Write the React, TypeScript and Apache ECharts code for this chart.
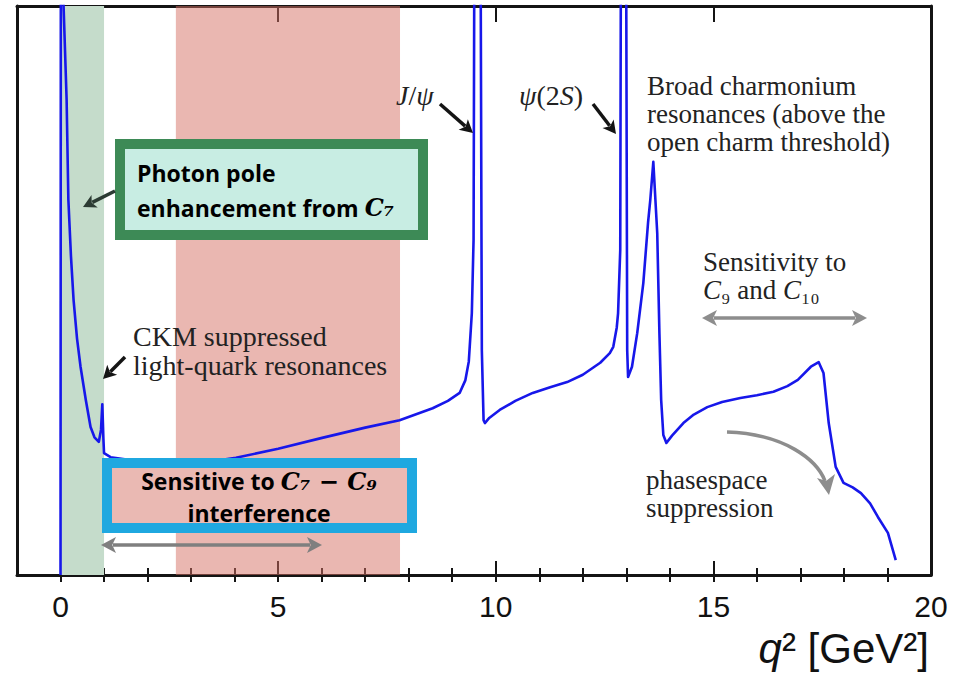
import React, { useEffect, useRef } from "react";
import * as echarts from "echarts";

// ---- data ----
const Q2 = [
  0.0, 0.02, 0.07, 0.14, 0.18, 0.24, 0.3, 0.38, 0.46, 0.58, 0.69, 0.78, 0.88, 0.93, 0.96, 0.985, 1.0, 1.15,
  1.6, 2.2, 2.8, 3.4, 4.03, 5.0, 6.01, 7.0, 7.79, 8.55, 8.9, 9.17, 9.3, 9.38, 9.45, 9.49, 9.575, 9.68, 9.72,
  9.75, 9.85, 10.09, 10.45, 10.85, 11.25, 11.64, 12.0, 12.4, 12.62, 12.7, 12.78, 12.81, 12.86, 12.93, 13.02,
  13.04, 13.13, 13.25, 13.39, 13.5, 13.55, 13.62, 13.71, 13.76, 13.8, 13.85, 13.92, 14.05, 14.31, 14.55,
  14.86, 15.2, 15.62, 16.0, 16.38, 16.7, 16.94, 17.24, 17.42, 17.53, 17.65, 17.81, 17.99, 18.2, 18.39, 18.6,
  18.78, 19.01, 19.19,
];
const RATE = [
  0, 300, 100, 83.5, 66, 56, 48.3, 41.5, 36.6, 30.8, 26.0, 24.2, 23.4, 25.5, 30.0, 24, 21.4, 20.7,
  20.2, 19.9, 19.7, 19.9, 20.6, 22.2, 24.1, 25.9, 27.2, 29.3, 30.6, 32.0, 34.2, 37.5, 46.0, 58.9, 300, 39.5, 27.2,
  26.7, 27.6, 29.0, 30.6, 32.0, 33.0, 33.9, 35.2, 37.3, 39.0, 40.1, 43.5, 46.0, 57.1, 300, 39.5,
  34.8, 36.6, 42.5, 51.3, 62, 65.9, 72.6, 60.1, 42.5, 30.8, 24.6, 23.2, 24.5, 26.7, 28.2,
  29.5, 30.4, 31.1, 31.6, 32.2, 33.2, 34.3, 36.6, 37.4, 35.5, 26.7, 19.0, 16.2, 15.4, 14.4, 12.6,
  10.2, 7.4, 2.6,
];
const X_MIN = -1;
const X_MAX = 20;
const MAJOR_TICKS = [0, 5, 10, 15, 20];
const MINOR_TICKS = [0, 1, 2, 3, 4, 5, 6, 7, 8, 9, 10, 11, 12, 13, 14, 15, 16, 17, 18, 19];
const PHOTON_BAND = [0, 1];
const INTERF_BAND = [2.65, 7.8];

const SERIF = '"Liberation Serif", "Times New Roman", serif';
const SANS = '"Liberation Sans", Arial, sans-serif';
const BOLD = '"Open Sans", "Noto Sans", sans-serif';

type P = [number, number];

function arrow(a: P, b: P, color: string, width: number, head: number, half: number, z: number, both = false) {
  const dx = b[0] - a[0];
  const dy = b[1] - a[1];
  const L = Math.hypot(dx, dy);
  const ux = dx / L;
  const uy = dy / L;
  const els: any[] = [];
  const sx = both ? a[0] + ux * head * 0.8 : a[0];
  const sy = both ? a[1] + uy * head * 0.8 : a[1];
  els.push({
    type: "line",
    z,
    silent: true,
    shape: { x1: sx, y1: sy, x2: b[0] - ux * head * 0.8, y2: b[1] - uy * head * 0.8 },
    style: { stroke: color, lineWidth: width, lineCap: "butt" },
  });
  const headAt = (t: P, vx: number, vy: number) => ({
    type: "polygon",
    z,
    silent: true,
    shape: {
      points: [
        [t[0], t[1]],
        [t[0] - vx * head - vy * half, t[1] - vy * head + vx * half],
        [t[0] - vx * head * 0.75, t[1] - vy * head * 0.75],
        [t[0] - vx * head + vy * half, t[1] - vy * head - vx * half],
      ],
    },
    style: { fill: color },
  });
  els.push(headAt(b, ux, uy));
  if (both) els.push(headAt(a, -ux, -uy));
  return els;
}

export default function App() {
  const ref = useRef<HTMLDivElement>(null);

  useEffect(() => {
    if (!ref.current) return;
    const chart = echarts.init(ref.current, undefined, { renderer: "svg" });
    const curve = Q2.map((q, i) => [q, RATE[i]]);

    const axisBase = {
      type: "value" as const,
      min: X_MIN,
      max: X_MAX,
      splitLine: { show: false },
      gridIndex: 0,
    };

    const black = "#141414";
    const grey = "#8d8d8d";
    const serifFont = `27px ${SERIF}`;

    const graphics: any[] = [
      // serif annotations
      {
        type: "text",
        z: 3,
        silent: true,
        style: {
          x: 396,
          y: 95,
          text: "{i|J}/{i|ψ}",
          rich: {
            i: { fontStyle: "italic", fontSize: 28, fontFamily: SERIF, fill: "#222" },
          },
          font: `28px ${SERIF}`,
          fill: "#222",
          align: "left",
          verticalAlign: "middle",
        },
      },
      {
        type: "text",
        z: 3,
        silent: true,
        style: {
          x: 519,
          y: 95,
          text: "{i|ψ}(2{i|S})",
          rich: {
            i: { fontStyle: "italic", fontSize: 28, fontFamily: SERIF, fill: "#222" },
          },
          font: `28px ${SERIF}`,
          fill: "#222",
          align: "left",
          verticalAlign: "middle",
        },
      },
      {
        type: "text",
        z: 3,
        silent: true,
        style: {
          x: 647,
          y: 72,
          text: "Broad charmonium\nresonances (above the\nopen charm threshold)",
          font: serifFont,
          lineHeight: 28,
          fill: "#222",
          align: "left",
          verticalAlign: "top",
        },
      },
      {
        type: "text",
        z: 3,
        silent: true,
        style: {
          x: 703,
          y: 248,
          text: "Sensitivity to\n{i|C}₉ and {i|C}₁₀",
          rich: {
            i: { fontStyle: "italic", fontSize: 27, fontFamily: SERIF, fill: "#222", lineHeight: 28 },
          },
          font: serifFont,
          lineHeight: 28,
          fill: "#222",
          align: "left",
          verticalAlign: "top",
        },
      },
      {
        type: "text",
        z: 3,
        silent: true,
        style: {
          x: 646,
          y: 466,
          text: "phasespace\nsuppression",
          font: serifFont,
          lineHeight: 28,
          fill: "#222",
          align: "left",
          verticalAlign: "top",
        },
      },
      {
        type: "text",
        z: 3,
        silent: true,
        style: {
          x: 133,
          y: 322,
          text: "CKM suppressed\nlight-quark resonances",
          font: `28px ${SERIF}`,
          lineHeight: 29,
          fill: "#222",
          align: "left",
          verticalAlign: "top",
        },
      },
      // axis title
      {
        type: "text",
        z: 3,
        silent: true,
        style: {
          x: 929,
          y: 648,
          text: "{i|q}{n|² [GeV²]}",
          rich: {
            i: { fontStyle: "italic", fontSize: 42, fontFamily: SANS, fill: "#111" },
            n: { fontSize: 42, fontFamily: SANS, fill: "#111" },
          },
          font: `42px ${SANS}`,
          fill: "#111",
          align: "right",
          verticalAlign: "middle",
        },
      },
      // black arrows
      ...arrow([440, 104], [473, 133], black, 3.5, 13, 7, 3),
      ...arrow([593, 104], [616, 134], black, 3.5, 13, 7, 3),
      ...arrow([125, 357], [103, 379], black, 3.5, 13, 7, 3),
      // grey double arrows
      ...arrow([702, 318], [867, 318], grey, 3.5, 15, 8, 3, true),
      ...arrow([101, 545], [322, 545], "#7f7f7f", 3.5, 15, 8, 3, true),
      // curved grey arrow
      {
        type: "bezierCurve",
        z: 3,
        silent: true,
        shape: { x1: 727, y1: 432, cpx1: 785, cpy1: 434, cpx2: 817, cpy2: 460, x2: 825, y2: 481 },
        style: { stroke: grey, lineWidth: 3.5, fill: null },
      },
      {
        type: "polygon",
        z: 3,
        silent: true,
        shape: { points: [[829, 495], [817, 478], [826, 481], [835, 474]] },
        style: { fill: grey },
      },
      // green box
      {
        type: "rect",
        z: 10,
        silent: true,
        shape: { x: 120, y: 144, width: 303, height: 91 },
        style: { fill: "#c8ede3", stroke: "#3d8a56", lineWidth: 10 },
      },
      {
        type: "text",
        z: 11,
        silent: true,
        style: {
          x: 137,
          y: 155,
          text: "Photon pole\nenhancement from {m|C₇}",
          rich: {
            m: { fontStyle: "italic", fontWeight: "bold", fontSize: 24, fontFamily: '"DejaVu Serif", serif', fill: "#000", lineHeight: 35 },
          },
          font: `bold 23px ${BOLD}`,
          lineHeight: 35,
          fill: "#000",
          align: "left",
          verticalAlign: "top",
        },
      },
      ...arrow([115, 191], [83, 207], "#2c3b33", 3.5, 13, 7, 11),
      // blue box
      {
        type: "rect",
        z: 10,
        silent: true,
        shape: { x: 107, y: 463, width: 305, height: 65 },
        style: { fill: "#eab9b3", stroke: "#1fa8e0", lineWidth: 10 },
      },
      {
        type: "text",
        z: 11,
        silent: true,
        style: {
          x: 259,
          y: 465,
          text: "Sensitive to {m|C₇ − C₉}\ninterference",
          rich: {
            m: { fontStyle: "italic", fontWeight: "bold", fontSize: 24, fontFamily: '"DejaVu Serif", serif', fill: "#000", lineHeight: 32 },
          },
          font: `bold 23px ${BOLD}`,
          lineHeight: 32,
          fill: "#000",
          align: "center",
          verticalAlign: "top",
        },
      },
    ];

    chart.setOption({
      animation: false,
      backgroundColor: "#ffffff",
      grid: { left: 17, right: 42, top: 6, bottom: 103, containLabel: false },
      xAxis: [
        {
          ...axisBase,
          position: "bottom",
          axisLine: { show: true, onZero: false, lineStyle: { color: black, width: 3 } },
          axisTick: { show: true, inside: true, length: 14, customValues: MAJOR_TICKS, lineStyle: { color: black, width: 2 } },
          axisLabel: {
            show: true,
            customValues: MAJOR_TICKS,
            fontSize: 30,
            fontFamily: SANS,
            color: "#111",
            margin: 16,
          },
        },
        {
          ...axisBase,
          position: "bottom",
          axisLine: { show: false },
          axisTick: { show: true, inside: true, length: 7, customValues: MINOR_TICKS, lineStyle: { color: black, width: 2 } },
          axisLabel: { show: false },
        },
        {
          ...axisBase,
          position: "top",
          axisLine: { show: true, onZero: false, lineStyle: { color: black, width: 3 } },
          axisTick: { show: true, inside: true, length: 16, customValues: MAJOR_TICKS, lineStyle: { color: black, width: 2 } },
          axisLabel: { show: false },
        },
        {
          ...axisBase,
          position: "top",
          axisLine: { show: false },
          axisTick: { show: true, inside: true, length: 7, customValues: MINOR_TICKS, lineStyle: { color: black, width: 2 } },
          axisLabel: { show: false },
        },
      ],
      yAxis: [
        {
          type: "value",
          min: 0,
          max: 100,
          position: "left",
          axisLine: { show: true, onZero: false, lineStyle: { color: black, width: 3 } },
          axisTick: { show: false },
          axisLabel: { show: false },
          splitLine: { show: false },
        },
        {
          type: "value",
          min: 0,
          max: 100,
          position: "right",
          axisLine: { show: true, onZero: false, lineStyle: { color: black, width: 3 } },
          axisTick: { show: false },
          axisLabel: { show: false },
          splitLine: { show: false },
        },
      ],
      series: [
        {
          name: "photon band",
          type: "line",
          data: [],
          z: 1,
          silent: true,
          markArea: {
            silent: true,
            itemStyle: { color: "#c5dccb" },
            data: [[{ xAxis: PHOTON_BAND[0] }, { xAxis: PHOTON_BAND[1] }]],
          },
        },
        {
          name: "dB/dq2",
          type: "line",
          data: curve,
          z: 2,
          showSymbol: false,
          symbol: "none",
          clip: true,
          silent: true,
          smooth: false,
          lineStyle: { color: "#1717ea", width: 2.6, join: "round" },
        },
        {
          name: "interference band",
          type: "line",
          data: [],
          z: 5,
          silent: true,
          markArea: {
            silent: true,
            itemStyle: { color: "rgba(213,112,100,0.5)" },
            data: [[{ xAxis: INTERF_BAND[0] }, { xAxis: INTERF_BAND[1] }]],
          },
        },
      ],
      graphic: graphics,
    });

    return () => chart.dispose();
  }, []);

  return <div ref={ref} style={{ position: "fixed", left: 0, top: 0, width: 973, height: 678, background: "#fff" }} />;
}
